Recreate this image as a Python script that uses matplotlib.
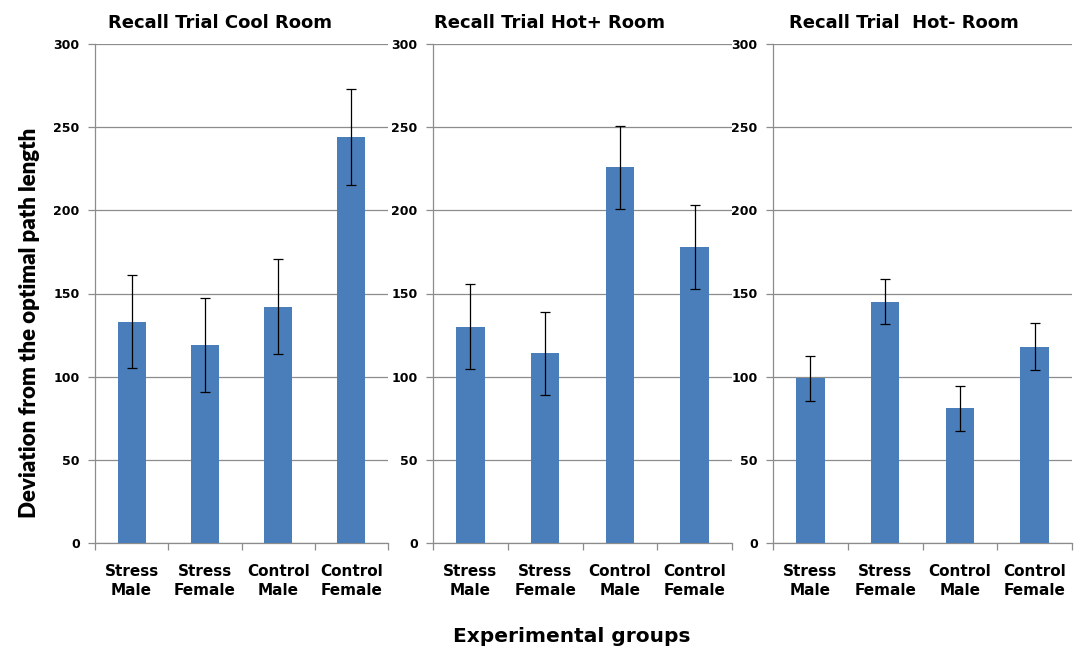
import matplotlib
matplotlib.use("Agg")
import matplotlib.pyplot as plt
import numpy as np

plt.rcParams['font.family'] = ['DejaVu Sans']

categories = ["Stress\nMale", "Stress\nFemale", "Control\nMale", "Control\nFemale"]
titles = ["Recall Trial Cool Room", "Recall Trial Hot+ Room", "Recall Trial  Hot- Room"]

cool_means = [133, 119, 142, 244]
cool_err = [28, 28.5, 28.5, 29]
hotp_means = [130, 114, 226, 178]
hotp_err = [25.5, 25, 25, 25]
hotm_means = [99, 145, 81, 118]
hotm_err = [13.5, 13.5, 13.5, 14]

yticks = [0, 50, 100, 150, 200, 250, 300]

means = [cool_means, hotp_means, hotm_means]
errs = [cool_err, hotp_err, hotm_err]

W, H = 1090, 648
fig = plt.figure(figsize=(W / 100, H / 100), dpi=100)

panels = [(95, 388), (433, 732), (773, 1072)]
title_x = [220, 550, 904]
top, bottom = 44, 543

bar_color = "#4a7ebb"
grid_color = "#8c8c8c"

for i, (l, r) in enumerate(panels):
    ax = fig.add_axes([l / W, 1 - bottom / H, (r - l) / W, (bottom - top) / H])
    x = np.arange(len(categories))
    ax.bar(x, means[i], width=0.38, color=bar_color, zorder=3)
    ax.errorbar(x, means[i], yerr=errs[i], fmt='none', ecolor='black',
                elinewidth=0.9, capsize=3.5, capthick=0.9, zorder=4)
    ax.set_xlim(-0.5, 3.5)
    ax.set_ylim(0, 300)
    ax.set_yticks(yticks)
    ax.set_yticklabels([str(v) for v in yticks], fontsize=9, fontweight='bold')
    ax.yaxis.grid(True, color=grid_color, linewidth=0.9, zorder=0)
    ax.set_axisbelow(True)
    ax.set_xticks(x)
    ax.set_xticklabels(categories, fontsize=11, fontweight='bold', linespacing=1.35)
    ax.tick_params(axis='x', length=0, pad=15)
    ax.set_xticks([-0.5, 0.5, 1.5, 2.5, 3.5], minor=True)
    ax.tick_params(axis='x', which='minor', length=5, color=grid_color, width=0.9)
    ax.tick_params(axis='y', length=5, color=grid_color, width=0.9, pad=6)
    for s in ['top', 'right']:
        ax.spines[s].set_visible(False)
    for s in ['left', 'bottom']:
        ax.spines[s].set_color(grid_color)
        ax.spines[s].set_linewidth(0.9)
    fig.text(title_x[i] / W, 1 - 23 / H, titles[i], ha='center', va='center',
             fontsize=13, fontweight='bold')

fig.text(30 / W, 1 - 323 / H, "Deviation from the optimal path length", rotation=90,
         ha='center', va='center', fontsize=16, fontweight='heavy',
         family=['Lato', 'DejaVu Sans'])
fig.text(572 / W, 1 - 637 / H, "Experimental groups", ha='center', va='center',
         fontsize=14.5, fontweight='bold')

fig.savefig("out.png", dpi=100, facecolor='white')
